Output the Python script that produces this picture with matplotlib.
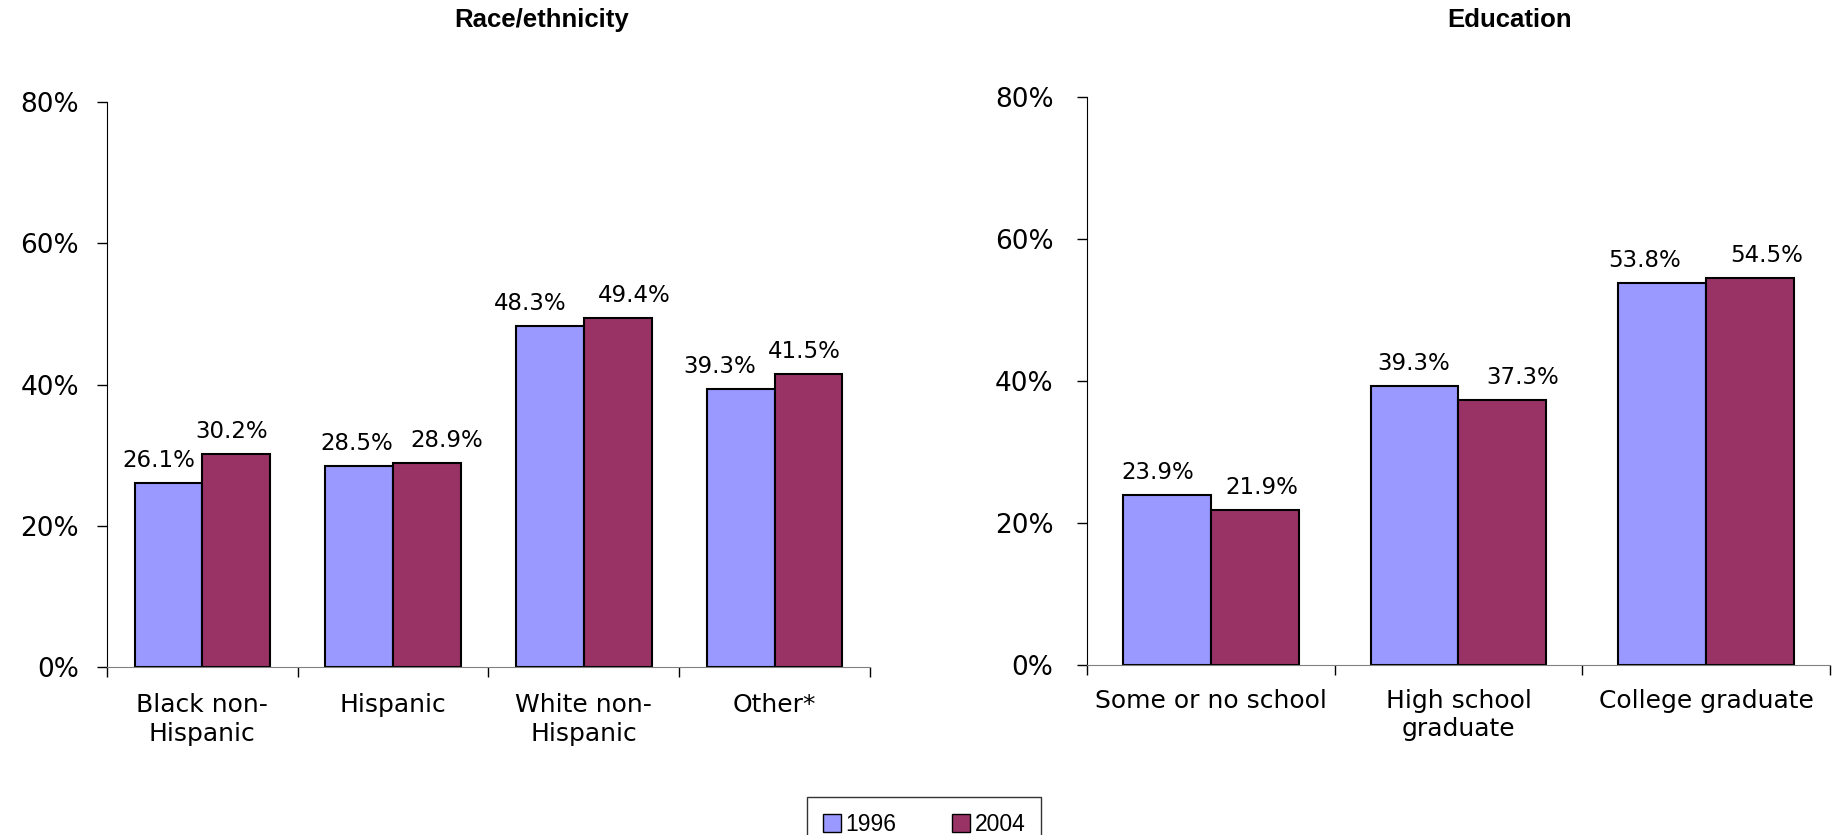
import numpy as np
import matplotlib.pyplot as plt
from matplotlib.patches import Patch

# race/ethnicity panel
race_cats = ["Black non-\nHispanic", "Hispanic", "White non-\nHispanic", "Other*"]
race_1996 = [26.1, 28.5, 48.3, 39.3]
race_2004 = [30.2, 28.9, 49.4, 41.5]

# education panel
edu_cats = ["Some or no school", "High school\ngraduate", "College graduate"]
edu_1996 = [23.9, 39.3, 53.8]
edu_2004 = [21.9, 37.3, 54.5]

years = ["1996", "2004"]
yticks = [0, 20, 40, 60, 80]
c96 = "#9999FF"
c04 = "#993366"

# sideways nudges (pixels) of the value labels, as placed in the original
race_nudge = ([-10, -2, -20, -21], [-5, 20, 17, -4])
edu_nudge = ([-9, -1, -18], [7, 20, 16])

fig = plt.figure(figsize=(18.37, 8.35), dpi=100)
plt.rcParams['font.family'] = ['DejaVu Sans']


def panel(ax, cats, v1, v2, nudge, ypad, xpad):
    n = len(cats)
    x = np.arange(n)
    w = 0.355
    b1 = ax.bar(x - w / 2, v1, w, color=c96, edgecolor="black", linewidth=1.5)
    b2 = ax.bar(x + w / 2, v2, w, color=c04, edgecolor="black", linewidth=1.5)
    for bars, dx in zip((b1, b2), nudge):
        for r, d in zip(bars, dx):
            ax.annotate(f"{r.get_height():.1f}%",
                        (r.get_x() + r.get_width() / 2, r.get_height()),
                        xytext=(d, 11), textcoords="offset pixels",
                        ha="center", va="bottom", fontsize=16.5)
    ax.set_xlim(-0.5, n - 0.5)
    ax.set_ylim(0, 80)
    ax.set_yticks(yticks)
    ax.set_yticklabels([f"{t}%" for t in yticks], fontsize=19)
    ax.tick_params(axis="y", length=7, width=1, pad=ypad)
    # labels at centres, ticks at boundaries
    ax.set_xticks(x)
    ax.set_xticklabels(cats, fontsize=18, linespacing=1.25)
    ax.set_xticks(np.arange(n + 1) - 0.5, minor=True)
    ax.tick_params(axis="x", which="major", length=0, pad=xpad)
    ax.tick_params(axis="x", which="minor", length=7, width=1, color="black")
    ax.spines["top"].set_visible(False)
    ax.spines["right"].set_visible(False)
    ax.spines["bottom"].set_color("#808080")
    ax.spines["left"].set_bounds(0, 80)


ax1 = fig.add_axes([0.0582, 0.2012, 0.4154, 0.6766])
panel(ax1, race_cats, race_1996, race_2004, race_nudge, 13, 19)
ax2 = fig.add_axes([0.5917, 0.2036, 0.4045, 0.6802])
panel(ax2, edu_cats, edu_1996, edu_2004, edu_nudge, 17, 17)

fig.text(542 / 1837, 1 - 20 / 835, "Race/ethnicity", ha="center", va="center",
         fontsize=18.5, fontweight="bold", family="Liberation Sans")
fig.text(1510 / 1837, 1 - 20 / 835, "Education", ha="center", va="center",
         fontsize=18.5, fontweight="bold", family="Liberation Sans")

handles = [Patch(facecolor=c96, edgecolor="black"), Patch(facecolor=c04, edgecolor="black")]
leg = fig.legend(handles, years, loc="upper center", bbox_to_anchor=(924 / 1837, 1 - 797 / 835),
                 ncol=2, frameon=True, fancybox=False, edgecolor="black",
                 prop={"family": "Liberation Sans", "size": 16.5}, handlelength=0.8, handleheight=0.8,
                 handletextpad=0.2, columnspacing=2.4, borderpad=0.7, borderaxespad=0)
leg.get_frame().set_linewidth(1)

fig.savefig("out.png", dpi=100)
